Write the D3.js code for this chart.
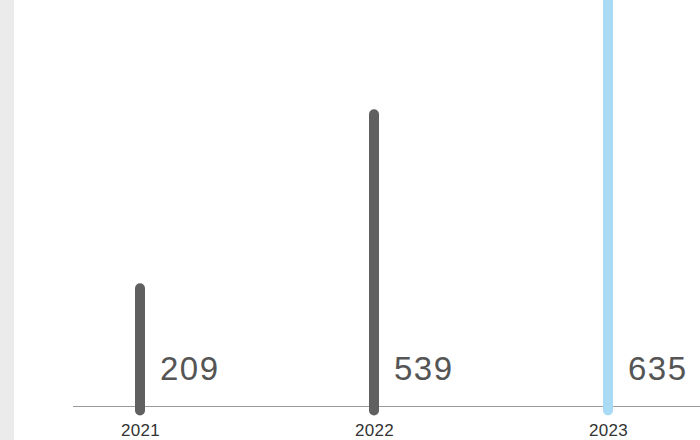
<!DOCTYPE html>
<html>
<head>
<meta charset="utf-8">
<script src="https://cdn.jsdelivr.net/npm/d3@7"></script>
<style>
  html, body { margin: 0; padding: 0; background: #fff; }
  svg { display: block; }
</style>
</head>
<body>
<svg id="chart" width="700" height="440"></svg>
<script>
const years = ["2021", "2022", "2023"];
const values = [209, 539, 635];
const highlight = [false, false, true];

const W = 700, H = 440;
const svg = d3.select("#chart");

// grey side strip
svg.append("rect").attr("x", 0).attr("y", 0).attr("width", 14).attr("height", H).attr("fill", "#ebebeb");

const baseY = 406.5;
const x = d3.scalePoint().domain(years).range([140, 608]);
const y = d3.scaleLinear().domain([0, 700]).range([398.5, 29.4]);

const data = years.map((yr, i) => ({ yr, v: values[i], hi: highlight[i] }));

// baseline
svg.append("line")
  .attr("x1", 73).attr("x2", W)
  .attr("y1", baseY).attr("y2", baseY)
  .attr("stroke", "#9a9a9a").attr("stroke-width", 1);

// bars (rounded lines)
svg.selectAll("line.bar").data(data).enter().append("line")
  .attr("class", "bar")
  .attr("x1", d => x(d.yr)).attr("x2", d => x(d.yr))
  .attr("y1", y(0) + 12)
  .attr("y2", d => d.hi ? y.range()[1] - 60 : y(d.v))
  .attr("stroke", d => d.hi ? "#a9dbf4" : "#606060")
  .attr("stroke-width", 10)
  .attr("stroke-linecap", "round");

// value labels
svg.selectAll("text.val").data(data).enter().append("text")
  .attr("class", "val")
  .attr("x", d => x(d.yr) + 20)
  .attr("y", 380)
  .attr("font-family", "Liberation Sans, Arial, sans-serif")
  .attr("font-size", 33)
  .attr("letter-spacing", 1.5)
  .attr("fill", "#555")
  .text(d => d.v);

// x axis labels
const axis = d3.axisBottom(x).tickSize(0).tickPadding(0);
const g = svg.append("g").attr("transform", `translate(0,${424})`).call(axis);
g.select(".domain").remove();
g.selectAll("text")
  .attr("dy", "0.71em")
  .attr("font-family", "Liberation Sans, Arial, sans-serif")
  .attr("font-size", 17)
  .attr("letter-spacing", 0.3)
  .attr("fill", "#333");
</script>
</body>
</html>
